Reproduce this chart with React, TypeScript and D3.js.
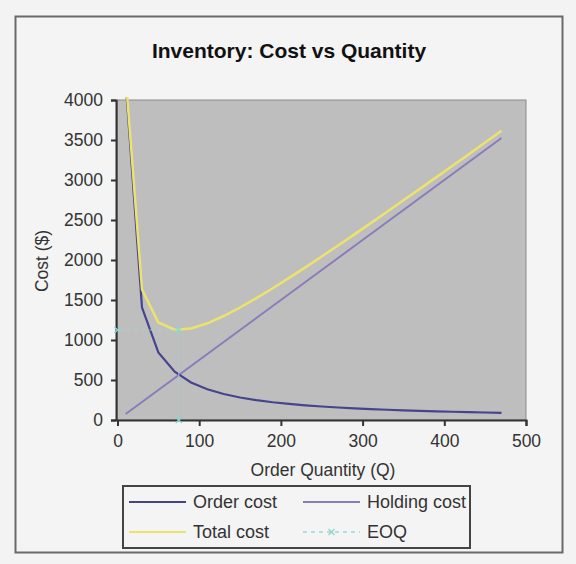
import { useEffect, useRef } from "react";
import * as d3 from "d3";

// Values
const quantity = [10, 30, 50, 70, 90, 110, 130, 150, 170, 190, 210, 230, 250, 270, 290, 310, 330, 350, 370, 390, 410, 430, 450, 470];
const orderCost = [4219, 1406, 844, 603, 469, 384, 325, 281, 248, 222, 201, 183, 169, 156, 145, 136, 128, 121, 114, 108, 103, 98, 94, 90];
const holdingCost = [75, 225, 375, 525, 675, 825, 975, 1125, 1275, 1425, 1575, 1725, 1875, 2025, 2175, 2325, 2475, 2625, 2775, 2925, 3075, 3225, 3375, 3525];
const totalCost = [4294, 1631, 1219, 1128, 1144, 1209, 1300, 1406, 1523, 1647, 1776, 1908, 2044, 2181, 2320, 2461, 2603, 2746, 2889, 3033, 3178, 3323, 3469, 3615];
const eoqQuantity = [0, 75, 75];
const eoqCost = [1125, 1125, 0];

const xTicks = [0, 100, 200, 300, 400, 500];
const yTicks = [0, 500, 1000, 1500, 2000, 2500, 3000, 3500, 4000];

const FONT = "'Liberation Sans', Arial, sans-serif";

export default function App() {
  const svgRef = useRef<SVGSVGElement>(null);
  const width = 576;
  const height = 564;

  useEffect(() => {
    if (!svgRef.current) return;
    const svg = d3.select(svgRef.current);
    svg.selectAll("*").remove();

    const plot = { left: 117.5, right: 526, top: 100, bottom: 420 };

    // page + outer frame
    svg.append("rect").attr("width", width).attr("height", height).attr("fill", "#f3f3f3");
    svg.append("rect")
      .attr("x", 15.5).attr("y", 16.5)
      .attr("width", 547).attr("height", 536)
      .attr("fill", "#f4f4f4")
      .attr("stroke", "#6a6a6a")
      .attr("stroke-width", 2);

    svg.append("text")
      .attr("x", 289).attr("y", 58)
      .attr("text-anchor", "middle")
      .attr("font-family", FONT)
      .attr("font-weight", "bold")
      .attr("font-size", "21px")
      .attr("fill", "#111")
      .text("Inventory: Cost vs Quantity");

    const x = d3.scaleLinear().domain([0, 500]).range([plot.left, plot.right]);
    const y = d3.scaleLinear().domain([0, 4000]).range([plot.bottom, plot.top]);

    // Plot area
    svg.append("rect")
      .attr("x", plot.left).attr("y", plot.top)
      .attr("width", plot.right - plot.left)
      .attr("height", plot.bottom - plot.top)
      .attr("fill", "#bebebe")
      .attr("stroke", "#8a8a8a")
      .attr("stroke-width", 1);

    svg.append("clipPath").attr("id", "plotClip")
      .append("rect")
      .attr("x", plot.left).attr("y", plot.top - 3)
      .attr("width", plot.right - plot.left)
      .attr("height", plot.bottom - plot.top + 3);

    // Axes
    const yAxis = d3.axisLeft(y).tickValues(yTicks).tickSize(5).tickPadding(8).tickFormat(d3.format("d"));
    const xAxis = d3.axisBottom(x).tickValues(xTicks).tickSize(6).tickPadding(9).tickFormat(d3.format("d"));

    const gy = svg.append("g")
      .attr("transform", `translate(${plot.left - 1.5},0)`)
      .call(yAxis);
    const gx = svg.append("g")
      .attr("transform", `translate(0,${plot.bottom})`)
      .call(xAxis);
    [gx, gy].forEach(g => {
      g.select(".domain").attr("stroke", "#333").attr("stroke-width", 2);
      g.selectAll(".tick line").attr("stroke", "#333").attr("stroke-width", 2);
      g.selectAll(".tick text")
        .attr("fill", "#333")
        .attr("font-family", FONT)
        .attr("font-size", "17.5px");
    });

    svg.append("text")
      .attr("x", 323).attr("y", 476)
      .attr("text-anchor", "middle")
      .attr("font-family", FONT)
      .attr("font-size", "17.5px")
      .attr("fill", "#333")
      .text("Order Quantity (Q)");

    svg.append("text")
      .attr("transform", "rotate(-90)")
      .attr("x", -261).attr("y", 48)
      .attr("text-anchor", "middle")
      .attr("font-family", FONT)
      .attr("font-size", "17.5px")
      .attr("fill", "#333")
      .text("Cost ($)");

    // Series
    const line = (values: number[], qs: number[]) =>
      d3.line<number>().x((_, i) => x(qs[i])).y(d => y(d))(values);

    const series = svg.append("g").attr("clip-path", "url(#plotClip)");

    series.append("path")
      .attr("d", line(holdingCost, quantity))
      .attr("fill", "none")
      .attr("stroke", "#8a7cba")
      .attr("stroke-width", 2);

    series.append("path")
      .attr("d", line(orderCost, quantity))
      .attr("fill", "none")
      .attr("stroke", "#46448c")
      .attr("stroke-width", 2.2);

    series.append("path")
      .attr("d", line(totalCost, quantity))
      .attr("fill", "none")
      .attr("stroke", "#ece26e")
      .attr("stroke-width", 2.5);

    svg.append("path")
      .attr("d", line(eoqCost, eoqQuantity))
      .attr("fill", "none")
      .attr("stroke", "#9ed6d2")
      .attr("stroke-width", 1.2)
      .attr("stroke-dasharray", "4,4")
      .attr("opacity", 0.8);

    const cross = (g: d3.Selection<SVGGElement, unknown, null, undefined>, cx: number, cy: number) => {
      g.append("path")
        .attr("d", `M${cx - 3},${cy - 3}L${cx + 3},${cy + 3}M${cx - 3},${cy + 3}L${cx + 3},${cy - 3}`)
        .attr("stroke", "#8fd4cf")
        .attr("stroke-width", 1.3);
    };
    const markers = svg.append("g");
    eoqQuantity.forEach((q, i) => cross(markers, x(q), y(eoqCost[i])));

    // Legend
    const legend = svg.append("g").attr("transform", "translate(123,486)");
    legend.append("rect")
      .attr("width", 347).attr("height", 62)
      .attr("fill", "#f4f4f4")
      .attr("stroke", "#444")
      .attr("stroke-width", 2);

    const items = [
      { label: "Order cost", color: "#46448c", dash: null, col: 0, row: 0 },
      { label: "Holding cost", color: "#8a7cba", dash: null, col: 1, row: 0 },
      { label: "Total cost", color: "#ece26e", dash: null, col: 0, row: 1 },
      { label: "EOQ", color: "#9ed6d2", dash: "4,4", col: 1, row: 1 },
    ];
    items.forEach(it => {
      const lx = it.col === 0 ? 6 : 180;
      const ly = it.row === 0 ? 16 : 46;
      legend.append("line")
        .attr("x1", lx).attr("x2", lx + 57)
        .attr("y1", ly).attr("y2", ly)
        .attr("stroke", it.color)
        .attr("stroke-width", it.dash ? 1.5 : 2)
        .attr("stroke-dasharray", it.dash);
      if (it.dash) cross(legend, lx + 28.5, ly);
      legend.append("text")
        .attr("x", lx + 64).attr("y", ly + 6)
        .attr("font-family", FONT)
        .attr("font-size", "18px")
        .attr("fill", "#333")
        .text(it.label);
    });
  }, []);

  return (
    <svg
      ref={svgRef}
      width={width}
      height={height}
      style={{ position: "absolute", left: 0, top: 0 }}
    />
  );
}
